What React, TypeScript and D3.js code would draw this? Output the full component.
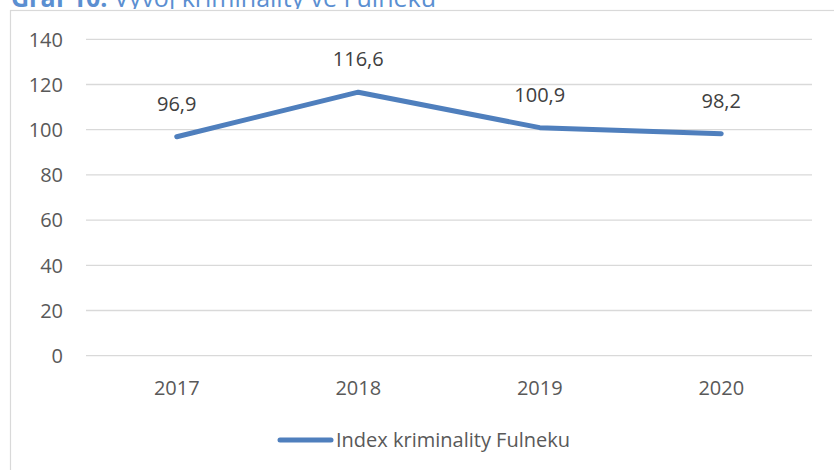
import { useEffect, useRef } from 'react';
import * as d3 from 'd3';

const years = ['2017', '2018', '2019', '2020'];
const crimeIndex = [96.9, 116.6, 100.9, 98.2];
const yTicks = [0, 20, 40, 60, 80, 100, 120, 140];
const seriesName = 'Index kriminality Fulneku';

export default function App() {
  const svgRef = useRef<SVGSVGElement>(null);

  useEffect(() => {
    const W = 834;
    const H = 470;
    const svg = d3.select(svgRef.current);
    svg.selectAll('*').remove();
    svg.attr('width', W).attr('height', H).attr('viewBox', `0 0 ${W} ${H}`);

    const font = '"Open Sans", "Noto Sans", sans-serif';
    const lineColor = '#4f7fbd';

    svg.append('rect').attr('width', W).attr('height', H).attr('fill', '#fff');

    // title, mostly cut off by the top edge
    const title = svg
      .append('text')
      .attr('x', 11)
      .attr('y', 7)
      .style('font-family', font)
      .style('font-size', '25px')
      .style('fill', '#5b8fd1');
    title.append('tspan').style('font-weight', 'bold').text('Graf 10:');
    title.append('tspan').text(' Vývoj kriminality ve Fulneku');

    // white strip under the title so descenders stop at the border
    svg.append('rect').attr('x', 0).attr('y', 9).attr('width', W).attr('height', 4).attr('fill', '#fff');

    // chart border
    svg
      .append('rect')
      .attr('x', 10.5)
      .attr('y', 10.5)
      .attr('width', 900)
      .attr('height', 600)
      .attr('fill', 'none')
      .attr('stroke', '#d9d9d9')
      .attr('stroke-width', 1.2);

    const x = d3.scaleBand().domain(years).range([86, 812]);
    const y = d3.scaleLinear().domain([0, 140]).range([355.7, 39.3]);

    // gridlines
    svg
      .append('g')
      .selectAll('line')
      .data(yTicks)
      .enter()
      .append('line')
      .attr('x1', 86)
      .attr('x2', 812)
      .attr('y1', (d) => y(d))
      .attr('y2', (d) => y(d))
      .attr('stroke', '#d9d9d9')
      .attr('stroke-width', 1.3);

    // y labels
    svg
      .append('g')
      .selectAll('text')
      .data(yTicks)
      .enter()
      .append('text')
      .attr('x', 63)
      .attr('y', (d) => y(d))
      .attr('dy', '0.36em')
      .attr('text-anchor', 'end')
      .style('font-family', font)
      .style('font-size', '20px')
      .style('fill', '#595959')
      .text((d) => d);

    // x labels
    svg
      .append('g')
      .selectAll('text')
      .data(years)
      .enter()
      .append('text')
      .attr('x', (d) => x(d)! + x.bandwidth() / 2)
      .attr('y', 395)
      .attr('text-anchor', 'middle')
      .style('font-family', font)
      .style('font-size', '20px')
      .style('fill', '#595959')
      .text((d) => d);

    const pts = years.map((yr, i) => ({ yr, v: crimeIndex[i] }));

    const line = d3
      .line<{ yr: string; v: number }>()
      .x((d) => x(d.yr)! + x.bandwidth() / 2)
      .y((d) => y(d.v));

    svg
      .append('path')
      .datum(pts)
      .attr('d', line)
      .attr('fill', 'none')
      .attr('stroke', lineColor)
      .attr('stroke-width', 5)
      .attr('stroke-linecap', 'round')
      .attr('stroke-linejoin', 'round');

    // data labels
    svg
      .append('g')
      .selectAll('text')
      .data(pts)
      .enter()
      .append('text')
      .attr('x', (d) => x(d.yr)! + x.bandwidth() / 2)
      .attr('y', (d) => y(d.v) - 26)
      .attr('text-anchor', 'middle')
      .style('font-family', font)
      .style('font-size', '20px')
      .style('fill', '#404040')
      .text((d) => d.v.toFixed(1).replace('.', ','));

    // legend
    svg
      .append('line')
      .attr('x1', 280)
      .attr('x2', 331)
      .attr('y1', 440)
      .attr('y2', 440)
      .attr('stroke', lineColor)
      .attr('stroke-width', 5)
      .attr('stroke-linecap', 'round');
    svg
      .append('text')
      .attr('x', 336)
      .attr('y', 447)
      .style('font-family', font)
      .style('font-size', '20px')
      .style('fill', '#595959')
      .text(seriesName);
  }, []);

  return (
    <div style={{ position: 'absolute', left: 0, top: 0 }}>
      <svg ref={svgRef} style={{ display: 'block' }}></svg>
    </div>
  );
}
